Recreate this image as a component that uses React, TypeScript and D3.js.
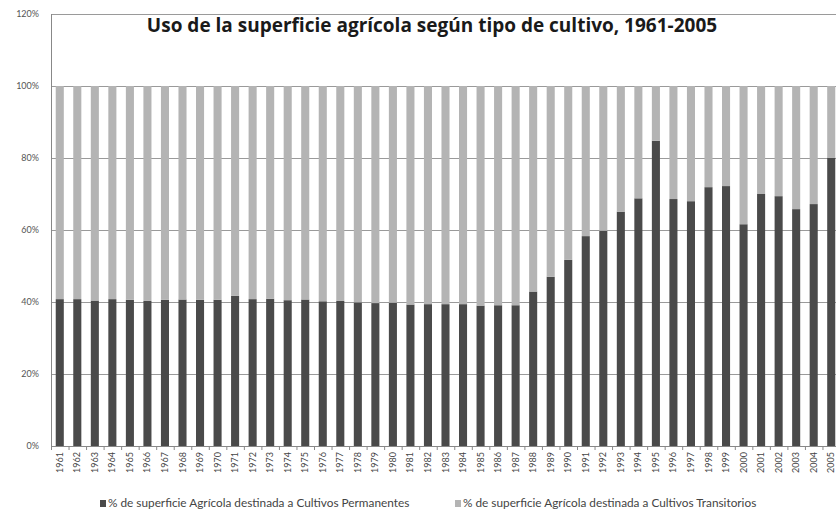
// Uso de la superficie agrícola - stacked 100% bars
import React, { useEffect, useRef } from 'react';
import * as d3 from 'd3';

const years = [
  '1961', '1962', '1963', '1964', '1965', '1966', '1967', '1968', '1969', '1970',
  '1971', '1972', '1973', '1974', '1975', '1976', '1977', '1978', '1979', '1980',
  '1981', '1982', '1983', '1984', '1985', '1986', '1987', '1988', '1989', '1990',
  '1991', '1992', '1993', '1994', '1995', '1996', '1997', '1998', '1999', '2000',
  '2001', '2002', '2003', '2004', '2005'
];

// % superficie destinada a cultivos permanentes
const permanentes = [
  40.8, 40.8, 40.4, 40.8, 40.6, 40.3, 40.6, 40.7, 40.6, 40.6,
  41.7, 40.8, 40.9, 40.5, 40.7, 40.2, 40.3, 39.9, 39.7, 39.8,
  39.3, 39.4, 39.4, 39.4, 39.0, 39.1, 39.1, 42.9, 47.0, 51.7,
  58.3, 59.8, 65.1, 68.8, 84.8, 68.6, 68.0, 71.9, 72.2, 61.6,
  70.0, 69.4, 65.8, 67.2, 80.1
];

// % superficie destinada a cultivos transitorios
const transitorios = [
  59.2, 59.2, 59.6, 59.2, 59.4, 59.7, 59.4, 59.3, 59.4, 59.4,
  58.3, 59.2, 59.1, 59.5, 59.3, 59.8, 59.7, 60.1, 60.3, 60.2,
  60.7, 60.6, 60.6, 60.6, 61.0, 60.9, 60.9, 57.1, 53.0, 48.3,
  41.7, 40.2, 34.9, 31.2, 15.2, 31.4, 32.0, 28.1, 27.8, 38.4,
  30.0, 30.6, 34.2, 32.8, 19.9
];

const yTicks = [0, 20, 40, 60, 80, 100, 120];

const seriesNames = [
  '% de superficie Agrícola destinada a Cultivos Permanentes',
  '% de superficie Agrícola destinada a Cultivos Transitorios'
];
const seriesColors = ['#4a4a4a', '#b4b4b4'];

const App: React.FC = () => {
  const svgRef = useRef<SVGSVGElement>(null);

  useEffect(() => {
    if (!svgRef.current) return;
    const svg = d3.select(svgRef.current);
    svg.selectAll('*').remove();

    const width = 836;
    const height = 514;
    const left = 51;
    const right = 840;
    const top = 14;
    const bottom = 446;

    const x = d3.scaleBand<string>()
      .domain(years)
      .range([left, right])
      .paddingInner(0.54)
      .paddingOuter(0.27);

    const y = d3.scaleLinear().domain([0, 120]).range([bottom, top]);

    svg.append('rect')
      .attr('width', width)
      .attr('height', height)
      .attr('fill', '#ffffff');

    // gridlines
    svg.append('g')
      .selectAll('line')
      .data(yTicks)
      .enter()
      .append('line')
      .attr('x1', left)
      .attr('x2', width)
      .attr('y1', d => y(d) + 0.5)
      .attr('y2', d => y(d) + 0.5)
      .attr('stroke', '#9a9a9a')
      .attr('stroke-width', 1);

    // y labels
    svg.append('g')
      .selectAll('text')
      .data(yTicks)
      .enter()
      .append('text')
      .attr('x', 39)
      .attr('y', d => y(d) + 3)
      .attr('text-anchor', 'end')
      .attr('font-family', 'Lato, sans-serif')
      .attr('font-size', 9)
      .attr('fill', '#555')
      .text(d => `${d}%`);

    // stacked bars
    const rows = years.map((yr, i) => ({ year: yr, p: permanentes[i], t: transitorios[i] }));
    const stack = d3.stack<{ year: string; p: number; t: number }>().keys(['p', 't']);
    const stacked = stack(rows);

    stacked.forEach((layer, li) => {
      svg.append('g')
        .selectAll('rect')
        .data(layer)
        .enter()
        .append('rect')
        .attr('x', d => x(d.data.year) as number)
        .attr('width', x.bandwidth())
        .attr('y', d => y(d[1]))
        .attr('height', d => y(d[0]) - y(d[1]))
        .attr('fill', seriesColors[li]);
    });

    // axes lines
    svg.append('line')
      .attr('x1', left + 0.5).attr('x2', left + 0.5)
      .attr('y1', top).attr('y2', bottom)
      .attr('stroke', '#888');
    svg.append('line')
      .attr('x1', left).attr('x2', width)
      .attr('y1', bottom + 0.5).attr('y2', bottom + 0.5)
      .attr('stroke', '#888');

    // category tick marks between bands
    const step = x.step();
    svg.append('g')
      .selectAll('line')
      .data(d3.range(years.length + 1))
      .enter()
      .append('line')
      .attr('x1', i => left + i * step + 0.5)
      .attr('x2', i => left + i * step + 0.5)
      .attr('y1', bottom)
      .attr('y2', bottom + 4)
      .attr('stroke', '#888');

    // x labels rotated
    svg.append('g')
      .selectAll('text')
      .data(years)
      .enter()
      .append('text')
      .attr('transform', d => `translate(${(x(d) as number) + x.bandwidth() / 2 + 3},${bottom + 6}) rotate(-90)`)
      .attr('text-anchor', 'end')
      .attr('font-family', 'Lato, sans-serif')
      .attr('font-size', 9)
      .attr('fill', '#444')
      .text(d => d);

    // title
    svg.append('text')
      .attr('x', 432)
      .attr('y', 32)
      .attr('text-anchor', 'middle')
      .attr('font-family', '"Open Sans", sans-serif')
      .attr('font-weight', 'bold')
      .attr('font-size', 19)
      .attr('fill', '#1a1a1a')
      .text('Uso de la superficie agrícola según tipo de cultivo, 1961-2005');

    // legend
    const legendX = [100, 455];
    seriesNames.forEach((name, i) => {
      const lg = svg.append('g').attr('transform', `translate(${legendX[i]},${507})`);
      lg.append('rect')
        .attr('x', 0)
        .attr('y', -7)
        .attr('width', 6)
        .attr('height', 7)
        .attr('fill', seriesColors[i]);
      lg.append('text')
        .attr('x', 8)
        .attr('y', 0)
        .attr('font-family', 'Lato, sans-serif')
        .attr('font-size', 11.8)
        .attr('fill', '#444')
        .text(name);
    });
  }, []);

  return (
    <svg
      ref={svgRef}
      width={836}
      height={514}
      style={{ position: 'absolute', left: 0, top: 0, display: 'block' }}
    />
  );
};

export default App;
